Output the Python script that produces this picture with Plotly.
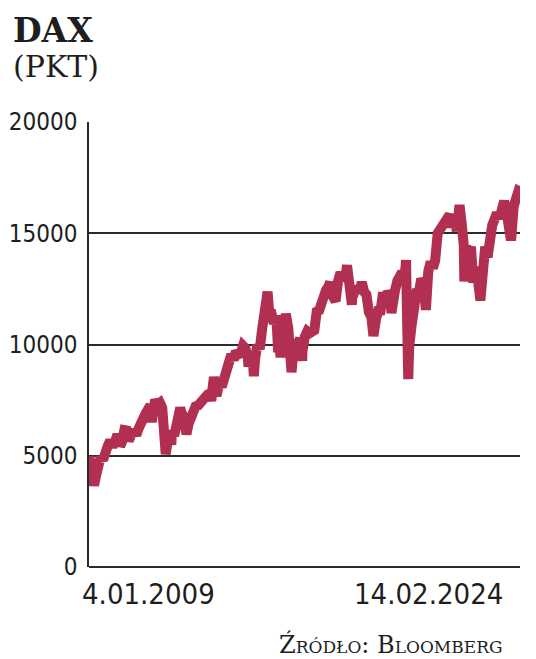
import plotly.graph_objects as go

dates = [
    "2009-01-04", "2009-01-30", "2009-02-27", "2009-03-06", "2009-03-31", "2009-04-30", "2009-05-29",
    "2009-06-30", "2009-07-31", "2009-08-31", "2009-09-30", "2009-10-30", "2009-11-30", "2009-12-31",
    "2010-01-29", "2010-02-05", "2010-02-26", "2010-03-31", "2010-04-30", "2010-05-25", "2010-05-31",
    "2010-06-30", "2010-07-30", "2010-08-31", "2010-09-30", "2010-10-29", "2010-11-30", "2010-12-31",
    "2011-01-31", "2011-02-28", "2011-03-16", "2011-03-31", "2011-04-29", "2011-05-31", "2011-06-30",
    "2011-07-29", "2011-08-09", "2011-08-18", "2011-08-31", "2011-09-12", "2011-09-30", "2011-10-31",
    "2011-11-23", "2011-11-30", "2011-12-30",
    "2012-01-31", "2012-02-29", "2012-03-16", "2012-03-30", "2012-04-30", "2012-05-31", "2012-06-04",
    "2012-06-29", "2012-07-31", "2012-08-31", "2012-09-28", "2012-10-31", "2012-11-30", "2012-12-31",
    "2013-01-31", "2013-02-28", "2013-03-28", "2013-04-18", "2013-04-30", "2013-05-22", "2013-05-31",
    "2013-06-24", "2013-06-28", "2013-07-31", "2013-08-30", "2013-09-30", "2013-10-31", "2013-11-29",
    "2013-12-31",
    "2014-01-31", "2014-02-28", "2014-03-31", "2014-04-30", "2014-05-30", "2014-06-30", "2014-07-31",
    "2014-08-08", "2014-08-29", "2014-09-30", "2014-10-16", "2014-10-31", "2014-11-28", "2014-12-31",
    "2015-01-30", "2015-02-27", "2015-03-31", "2015-04-10", "2015-04-30", "2015-05-29", "2015-06-30",
    "2015-07-31", "2015-08-24", "2015-08-31", "2015-09-24", "2015-09-30", "2015-10-30", "2015-11-30",
    "2015-12-31",
    "2016-01-29", "2016-02-11", "2016-02-29", "2016-03-31", "2016-04-29", "2016-05-31", "2016-06-27",
    "2016-06-30", "2016-07-29", "2016-08-31", "2016-09-30", "2016-10-31", "2016-11-30", "2016-12-30",
    "2017-01-31", "2017-02-28", "2017-03-31", "2017-04-28", "2017-05-31", "2017-06-20", "2017-06-30",
    "2017-07-31", "2017-08-29", "2017-09-29", "2017-10-31", "2017-11-30", "2017-12-29",
    "2018-01-23", "2018-01-31", "2018-02-28", "2018-03-26", "2018-03-29", "2018-04-30", "2018-05-31",
    "2018-06-29", "2018-07-31", "2018-08-31", "2018-09-28", "2018-10-31", "2018-11-30", "2018-12-27",
    "2018-12-31",
    "2019-01-31", "2019-02-28", "2019-03-29", "2019-04-30", "2019-05-31", "2019-06-28", "2019-07-31",
    "2019-08-15", "2019-08-30", "2019-09-30", "2019-10-31", "2019-11-29", "2019-12-31",
    "2020-01-31", "2020-02-19", "2020-02-28", "2020-03-18", "2020-03-31", "2020-04-30", "2020-05-29",
    "2020-06-30", "2020-07-31", "2020-08-31", "2020-09-30", "2020-10-30", "2020-11-30", "2020-12-31",
    "2021-01-29", "2021-02-26", "2021-03-31", "2021-04-30", "2021-05-31", "2021-06-30", "2021-07-30",
    "2021-08-31", "2021-09-30", "2021-10-29", "2021-11-30", "2021-12-31",
    "2022-01-05", "2022-01-31", "2022-02-28", "2022-03-07", "2022-03-31", "2022-04-29", "2022-05-31",
    "2022-06-30", "2022-07-29", "2022-08-31", "2022-09-29", "2022-10-31", "2022-11-30", "2022-12-30",
    "2023-01-31", "2023-02-28", "2023-03-31", "2023-04-28", "2023-05-31", "2023-06-30", "2023-07-31",
    "2023-08-31", "2023-09-29", "2023-10-26", "2023-10-31", "2023-11-30", "2023-12-29",
    "2024-01-31", "2024-02-14",
]

dax = [
    4980, 4338, 3843, 3666, 4085, 4770, 4941,
    4809, 5332, 5458, 5675, 5415, 5625, 5957,
    5608, 5434, 5598, 6154, 6136, 5670, 5964,
    5966, 6148, 5925, 6229, 6601, 6688, 6914,
    7077, 7273, 6514, 7041, 7514, 7294, 7376,
    7159, 5705, 5602, 5785, 5072, 5502, 6141,
    5493, 6089, 5898,
    6458, 6856, 7157, 6947, 6761, 6264, 5969,
    6416, 6772, 6971, 7216, 7260, 7405, 7612,
    7776, 7741, 7795, 7460, 7914, 8531, 8349,
    7690, 7959, 8276, 8103, 8594, 9033, 9405,
    9552,
    9306, 9692, 9556, 9603, 9943, 9833, 9407,
    9010, 9470, 9474, 8572, 9327, 9980, 9806,
    10694, 11402, 11966, 12375, 11454, 11414, 10945,
    11309, 9648, 10259, 9427, 9660, 10850, 11382,
    10743,
    9798, 8753, 9495, 9966, 10039, 10263, 9268,
    9680, 10337, 10593, 10511, 10665, 10640, 11481,
    11535, 11834, 12313, 12438, 12615, 12814, 12325,
    12118, 11946, 12829, 13230, 13024, 12918,
    13560, 13189, 12436, 11787, 12097, 12612, 12605,
    12306, 12806, 12364, 12247, 11448, 11257, 10382,
    10559,
    11173, 11516, 11526, 12344, 11727, 12399, 12189,
    11412, 11939, 12428, 12867, 13236, 13249,
    12982, 13789, 11890, 8442, 9936, 10862, 11587,
    12311, 12313, 12945, 12761, 11556, 13291, 13719,
    13433, 13786, 15008, 15136, 15421, 15531, 15544,
    15835, 15261, 15689, 15100, 15885,
    16271, 15471, 14461, 12832, 14415, 14098, 14388,
    12784, 13484, 12835, 11976, 13253, 14397, 13924,
    15128, 15365, 15629, 15922, 15664, 16148, 16447,
    15947, 15387, 14687, 14810, 16215, 16752,
    16904, 16880,
]

y_ticks = [0, 5000, 10000, 15000, 20000]
x_labels = ["4.01.2009", "14.02.2024"]

LINE = "#b12f50"
INK = "#1e1e1e"
GRID = "#2b2b2b"
TICKFONT = "DejaVu Sans Condensed, DejaVu Sans, sans-serif"
SERIF = "DejaVu Serif, Liberation Serif, serif"

fig = go.Figure()
fig.add_trace(go.Scatter(
    x=dates, y=dax, mode="lines",
    line=dict(color=LINE, width=10),
    hoverinfo="skip",
))

fig.update_layout(
    width=528, height=651,
    margin=dict(l=81, r=16, t=114, b=92, autoexpand=False),
    paper_bgcolor="white", plot_bgcolor="white",
    showlegend=False,
    xaxis=dict(
        range=["2009-01-01", "2024-02-19"],
        showgrid=False, showticklabels=False, zeroline=False,
        showline=False, ticks="", automargin=False,
    ),
    yaxis=dict(
        range=[0, 20000], tickvals=y_ticks,
        ticktext=[str(v) for v in y_ticks],
        showgrid=True, gridcolor=GRID, gridwidth=1.5,
        zeroline=True, zerolinecolor=GRID, zerolinewidth=2,
        showline=True, linecolor=GRID, linewidth=1.5,
        ticks="", ticklabelstandoff=5, automargin=False,
        tickfont=dict(family=TICKFONT, size=24, color=INK),
    ),
)

fig.add_annotation(
    x=dates[0], y=0, xref="x", yref="paper", yshift=-8,
    text=x_labels[0], showarrow=False, xanchor="left", yanchor="top",
    font=dict(family=TICKFONT, size=29, color=INK), xshift=-9,
)
fig.add_annotation(
    x=dates[-1], y=0, xref="x", yref="paper", yshift=-8,
    text=x_labels[1], showarrow=False, xanchor="right", yanchor="top",
    font=dict(family=TICKFONT, size=29, color=INK), xshift=-15,
)

fig.add_annotation(
    x=-0.182, y=1.254, xref="paper", yref="paper",
    text="<b>DAX</b>", showarrow=False, xanchor="left", yanchor="top",
    font=dict(family=SERIF, size=33, color=INK),
)
fig.add_annotation(
    x=-0.182, y=1.168, xref="paper", yref="paper",
    text="(PKT)", showarrow=False, xanchor="left", yanchor="top",
    font=dict(family=SERIF, size=30, color=INK),
)
fig.add_annotation(
    x=0.966, y=-0.174, xref="paper", yref="paper",
    text="Źródło: Bloomberg",
    showarrow=False, xanchor="right", yanchor="middle",
    font=dict(family=SERIF, size=24, color=INK, variant="small-caps"),
)

fig.write_html("out.html")
